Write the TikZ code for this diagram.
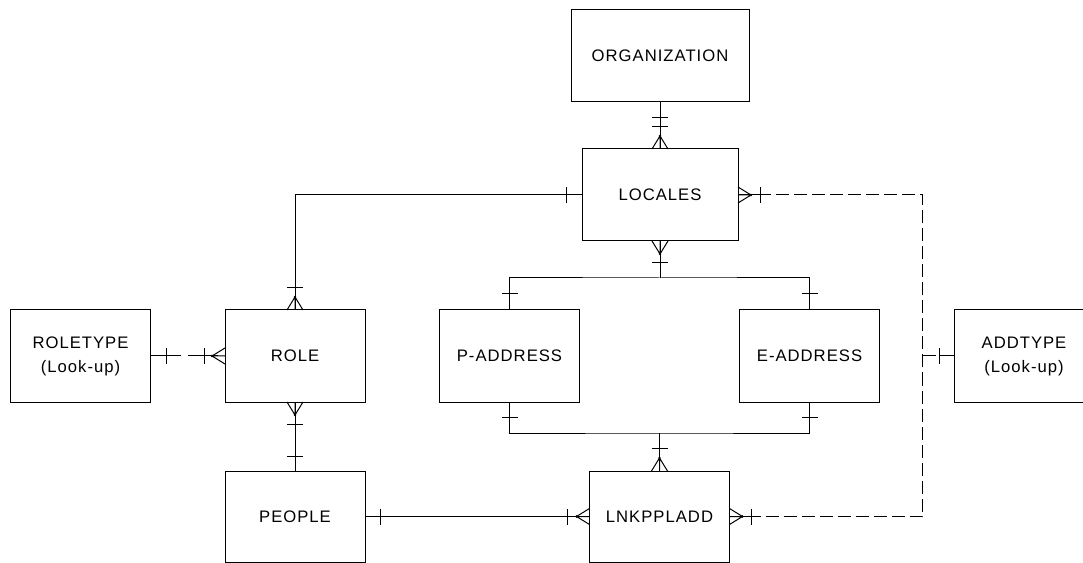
\documentclass[tikz,border=0pt]{standalone}
\usepackage{fontspec}
\setmainfont{Liberation Sans}[LetterSpace=6]
\usetikzlibrary{calc}
\begin{document}
\begin{tikzpicture}[x=0.75pt,y=-0.75pt,
  ent/.style={draw, rectangle, line width=0.75pt, outer sep=0pt, inner sep=0pt, align=center,
    font=\fontsize{12.5}{18}\selectfont, minimum width=105pt, minimum height=69pt},
  rel/.style={line width=0.75pt},
  dsh/.style={rel, dash pattern=on 9.75pt off 3.75pt},
  pics/crow/.style={code={\draw[rel] (-8,0) -- (0,-13) -- (8,0) (0,-13) -- (0,0); \fill (0,-13) circle (1.3);}},
  pics/tick/.style={code={\draw[rel] (-8,-#1) -- (8,-#1);}},
  pics/stub/.style={code={\draw[rel] (0,0) -- (0,-#1);}},
]
\useasboundingbox (0,0) rectangle (1083,563);
\clip (0,0) rectangle (1083,563);
% entities
\node[ent, minimum width=133.5pt] (org) at (660,56) {ORGANIZATION};
\node[ent, minimum width=117pt] (loc) at (660,195) {LOCALES};
\node[ent] (rt) at (80.5,356) {ROLETYPE\\(Look-up)};
\node[ent] (role) at (295,356) {ROLE};
\node[ent] (pa) at (509.5,356) {P-ADDRESS};
\node[ent] (ea) at (809.5,356) {E-ADDRESS};
\node[ent] (at) at (1024,356) {ADDTYPE\\(Look-up)};
\node[ent, minimum height=68.25pt] (ppl) at (295,516.5) {PEOPLE};
\node[ent, minimum height=68.25pt] (lnk) at (659.5,516.5) {LNKPPLADD};
% ORGANIZATION - LOCALES
\draw[rel] (org.south) -- (loc.north);
\pic[rotate=180] at (org.south) {tick=16};
\pic at (loc.north) {crow};
\pic at (loc.north) {tick=22};
% LOCALES - ROLE
\coordinate (j1) at (loc.west -| role.north);
\draw[rel] (loc.west) -- (j1) -- (role.north);
\pic[rotate=90] at (loc.west) {tick=16};
\pic at (role.north) {crow};
\pic at (role.north) {tick=22};
% LOCALES - addresses
\coordinate (j2) at ($(loc.south)+(0,37)$);
\draw[rel] (loc.south) -- (j2);
\draw[rel] (pa.north) |- (j2) -| (ea.north);
\pic[rotate=180] at (loc.south) {crow};
\pic[rotate=180] at (loc.south) {tick=22};
\pic at (pa.north) {tick=16};
\pic at (ea.north) {tick=16};
% addresses - LNKPPLADD
\coordinate (j3) at ($(lnk.north)+(0,-38)$);
\draw[rel] (pa.south) |- (j3) -| (ea.south);
\draw[rel] (j3) -- (lnk.north);
\pic[rotate=180] at (pa.south) {tick=15};
\pic[rotate=180] at (ea.south) {tick=15};
\pic at (lnk.north) {crow};
\pic at (lnk.north) {tick=23};
% ROLE - PEOPLE
\draw[rel] (role.south) -- (ppl.north);
\pic[rotate=180] at (role.south) {crow};
\pic[rotate=180] at (role.south) {tick=22};
\pic at (ppl.north) {tick=15};
% PEOPLE - LNKPPLADD
\draw[rel] (ppl.east) -- (lnk.west);
\pic[rotate=-90] at (ppl.east) {tick=15};
\pic[rotate=90] at (lnk.west) {crow};
\pic[rotate=90] at (lnk.west) {tick=22};
% ROLETYPE - ROLE
\draw[rel, dash pattern=on 22.5pt off 5.25pt] (rt.east) -- (role.west);
\pic[rotate=-90] at (rt.east) {tick=16};
\pic[rotate=90] at (role.west) {crow};
\pic[rotate=90] at (role.west) {tick=21};
% dashed LNKPPLADD - LOCALES, ADDTYPE
\coordinate (d1) at ($(lnk.east)+(193,0)$);
\draw[dsh] (lnk.east) -- (d1) |- (loc.east);
\pic[rotate=-90] at (lnk.east) {crow};
\pic[rotate=-90] at (lnk.east) {tick=22};
\pic[rotate=-90] at (lnk.east) {stub=24};
\pic[rotate=-90] at (loc.east) {crow};
\pic[rotate=-90] at (loc.east) {tick=22};
\pic[rotate=-90] at (loc.east) {stub=24};
\coordinate (d2) at (d1 |- at.west);
\draw[dsh] (d2) -- (at.west);
\pic[rotate=90] at (at.west) {tick=15};
\pic[rotate=90] at (at.west) {stub=15};
\end{tikzpicture}
\end{document}
